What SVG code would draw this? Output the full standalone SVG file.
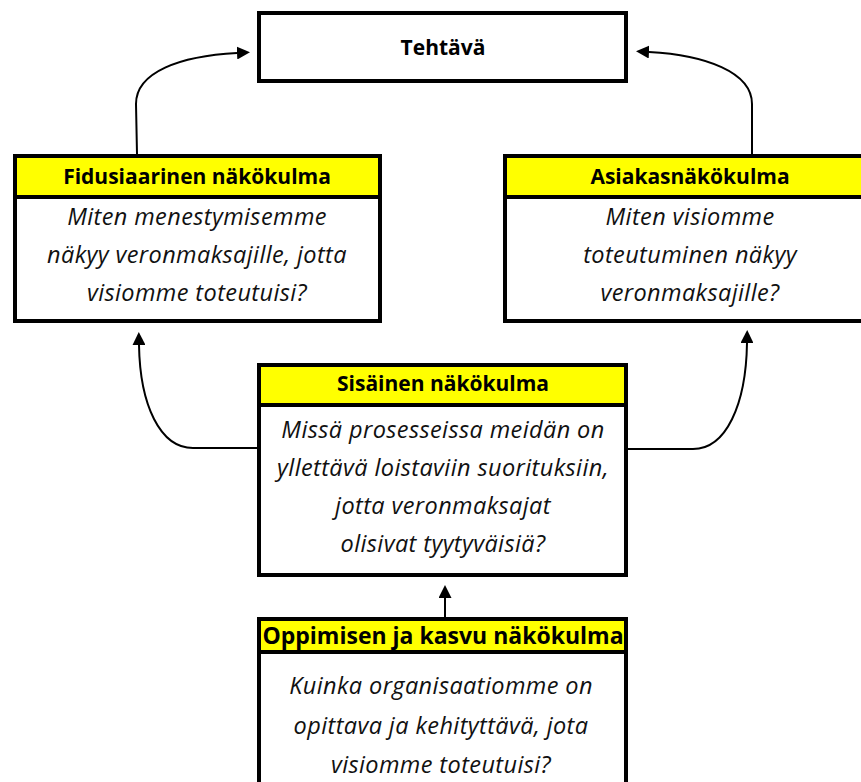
<svg xmlns="http://www.w3.org/2000/svg" width="861" height="782" viewBox="0 0 861 782">
  <style>
    .box { fill: #ffffff; stroke: #000000; stroke-width: 4; }
    .head { fill: #ffff00; stroke: #000000; stroke-width: 4; }
    .title { font-family: "Open Sans", Lato, sans-serif; font-weight: bold; font-size: 21px; text-anchor: middle; fill: #000000; }
    .wide { font-size: 23px; }
    .body { font-family: "Open Sans", Lato, sans-serif; font-style: italic; font-size: 23.5px; letter-spacing: 0.4px; text-anchor: middle; fill: #111111; }
    .link { fill: none; stroke: #000000; stroke-width: 2; }
  </style>
  <defs>
    <marker id="arrow" markerUnits="userSpaceOnUse" markerWidth="13" markerHeight="13" refX="0" refY="6.5" orient="auto">
      <path d="M0,0 L13,6.5 L0,13 z" fill="#000000"/>
    </marker>
  </defs>

  <rect width="861" height="782" fill="#ffffff"/>

  <!-- mission -->
  <g id="tehtava">
    <rect class="box" x="259" y="13" width="367" height="68"/>
    <text class="title" x="443" y="55">Tehtävä</text>
  </g>

  <!-- fiduciary perspective -->
  <g id="fidusiaarinen">
    <rect class="box" x="15" y="156" width="365" height="165"/>
    <rect class="head" x="15" y="156" width="365" height="41"/>
    <text class="title" x="197" y="184">Fidusiaarinen näkökulma</text>
    <text class="body" x="197" y="225">Miten menestymisemme</text>
    <text class="body" x="197" y="263">näkyy veronmaksajille, jotta</text>
    <text class="body" x="197" y="301">visiomme toteutuisi?</text>
  </g>

  <!-- customer perspective -->
  <g id="asiakas">
    <rect class="box" x="505" y="156" width="365" height="165"/>
    <rect class="head" x="505" y="156" width="365" height="41"/>
    <text class="title" x="690" y="184">Asiakasnäkökulma</text>
    <text class="body" x="690" y="225">Miten visiomme</text>
    <text class="body" x="690" y="263">toteutuminen näkyy</text>
    <text class="body" x="690" y="301">veronmaksajille?</text>
  </g>

  <!-- internal perspective -->
  <g id="sisainen">
    <rect class="box" x="259" y="365" width="367" height="210"/>
    <rect class="head" x="259" y="365" width="367" height="40"/>
    <text class="title" x="443" y="391">Sisäinen näkökulma</text>
    <text class="body" x="443" y="438">Missä prosesseissa meidän on</text>
    <text class="body" x="443" y="476">yllettävä loistaviin suorituksiin,</text>
    <text class="body" x="443" y="514">jotta veronmaksajat</text>
    <text class="body" x="443" y="552">olisivat tyytyväisiä?</text>
  </g>

  <!-- learning and growth perspective -->
  <g id="oppiminen">
    <rect class="box" x="259" y="619" width="367" height="200"/>
    <rect class="head" x="259" y="619" width="367" height="33"/>
    <text class="title wide" x="443" y="644">Oppimisen ja kasvu näkökulma</text>
    <text class="body" x="441" y="694">Kuinka organisaatiomme on</text>
    <text class="body" x="441" y="734">opittava ja kehityttävä, jota</text>
    <text class="body" x="441" y="773">visiomme toteutuisi?</text>
  </g>

  <!-- connectors -->
  <g id="connectors">
    <path class="link" marker-end="url(#arrow)" d="M137,154 L136,104 C136,72 180,56 237,53"/>
    <path class="link" marker-end="url(#arrow)" d="M752,154 L752,104 C752,72 705,55 649,52"/>
    <path class="link" marker-end="url(#arrow)" d="M257,448 L193,448 C160,448 140,405 139,345"/>
    <path class="link" marker-end="url(#arrow)" d="M628,449 L693,449 C726,449 746,405 747,343"/>
    <path class="link" marker-end="url(#arrow)" d="M445,617 L445,598"/>
  </g>
</svg>
